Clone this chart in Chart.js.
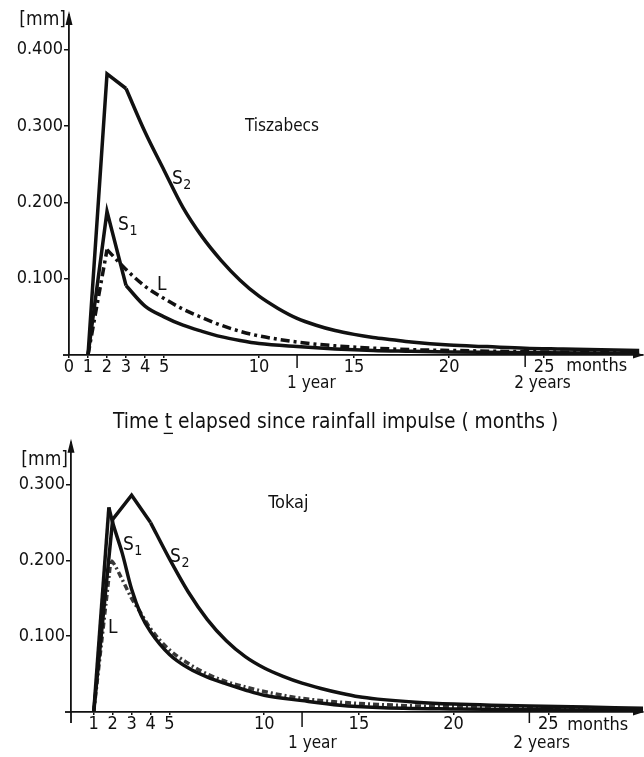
<!DOCTYPE html>
<html><head><meta charset="utf-8">
<script src="https://cdn.jsdelivr.net/npm/chart.js@4.4.0/dist/chart.umd.min.js"></script>
<style>
html,body{margin:0;padding:0;background:#fff;width:644px;height:757px;overflow:hidden}
canvas{position:absolute;left:0}
#c1{top:0}
#c2{top:435px}
</style></head><body>
<canvas id="c1" width="644" height="435"></canvas>
<canvas id="c2" width="644" height="322"></canvas>
<script>
const FONT = "'DejaVu Sans Condensed', 'DejaVu Sans', sans-serif";
const INK = '#111111';

// ---- tick labels ----
const topXTicks = [0, 1, 2, 3, 4, 5, 10, 15, 20, 25];
const botXTicks = [1, 2, 3, 4, 5, 10, 15, 20, 25];
const topYTicks = [0.1, 0.2, 0.3, 0.4];
const botYTicks = [0.1, 0.2, 0.3];

// ---- Tiszabecs (months, mm) ----
const tiszaS2Months = [1, 2, 3, 4, 5, 6, 7, 8, 9, 10, 11, 12, 13, 14, 15, 16, 17, 18, 20, 22, 24, 26, 28, 30];
const tiszaS2Values = [0, 0.368, 0.349, 0.292, 0.242, 0.193, 0.155, 0.124, 0.098, 0.077, 0.061, 0.048, 0.039, 0.032, 0.027, 0.023, 0.020, 0.017, 0.013, 0.011, 0.009, 0.008, 0.007, 0.006];
const tiszaS1Months = [1, 2, 3, 4, 5, 6, 7, 8, 9, 10, 12, 14, 16, 18, 20, 25, 30];
const tiszaS1Values = [0, 0.188, 0.091, 0.064, 0.050, 0.039, 0.031, 0.024, 0.019, 0.015, 0.011, 0.008, 0.006, 0.005, 0.004, 0.003, 0.002];
const tiszaLMonths  = [1, 2, 3, 4, 5, 6, 7, 8, 9, 10, 12, 14, 16, 18, 20, 25, 30];
const tiszaLValues  = [0, 0.138, 0.112, 0.090, 0.074, 0.060, 0.049, 0.039, 0.031, 0.025, 0.017, 0.012, 0.009, 0.007, 0.006, 0.004, 0.003];

// ---- Tokaj (months, mm) ----
const tokajS2Months = [1, 2, 3, 4, 5, 6, 7, 8, 9, 10, 11, 12, 13, 14, 15, 16, 18, 20, 22, 24, 27, 30];
const tokajS2Values = [0, 0.254, 0.286, 0.250, 0.202, 0.158, 0.122, 0.094, 0.073, 0.058, 0.047, 0.038, 0.031, 0.025, 0.020, 0.017, 0.013, 0.0105, 0.009, 0.008, 0.0065, 0.005];
const tokajS1Months = [1, 1.8, 2, 2.5, 3, 3.5, 4, 5, 6, 7, 8, 9, 10, 12, 14, 16, 20, 25, 30];
const tokajS1Values = [0, 0.270, 0.250, 0.210, 0.162, 0.128, 0.106, 0.076, 0.058, 0.046, 0.037, 0.029, 0.022, 0.015, 0.009, 0.006, 0.004, 0.003, 0.002];
const tokajLMonths  = [1, 1.9, 2, 2.5, 3, 3.5, 4, 5, 6, 7, 8, 9, 10, 12, 14, 16, 18, 20, 25, 30];
const tokajLValues  = [0, 0.200, 0.198, 0.175, 0.150, 0.130, 0.110, 0.082, 0.064, 0.050, 0.040, 0.033, 0.027, 0.018, 0.013, 0.010, 0.008, 0.007, 0.005, 0.004];

const pts = (ts, vs) => ts.map((t, i) => ({ x: t, y: vs[i] }));

function drawSub(ctx, main, sub, px, py, subDy) {
  ctx.textAlign = 'left';
  ctx.textBaseline = 'middle';
  ctx.font = `19px ${FONT}`;
  ctx.fillText(main, px, py);
  const w = ctx.measureText(main).width;
  if (sub) {
    ctx.font = `14px ${FONT}`;
    ctx.fillText(sub, px + w + 0.5, py + subDy);
  }
}

function annot(cfg) {
  return {
    id: 'annot',
    afterDraw(chart) {
      const { ctx, chartArea: a, scales: { x, y } } = chart;
      ctx.save();
      ctx.fillStyle = INK; ctx.strokeStyle = INK; ctx.lineWidth = 1.8;
      // y axis arrow
      ctx.beginPath(); ctx.moveTo(a.left, a.top + 1); ctx.lineTo(a.left, a.top - 5); ctx.stroke();
      ctx.beginPath(); ctx.moveTo(a.left, a.top - 8); ctx.lineTo(a.left - 3.5, a.top + 6); ctx.lineTo(a.left + 3.5, a.top + 6); ctx.closePath(); ctx.fill();
      // x axis arrow
      ctx.beginPath(); ctx.moveTo(a.right + 1, a.bottom); ctx.lineTo(a.right - 10, a.bottom - 3.5); ctx.lineTo(a.right - 10, a.bottom + 3.5); ctx.closePath(); ctx.fill();
      // x axis left extension
      ctx.beginPath(); ctx.moveTo(a.left - cfg.xExtL, a.bottom); ctx.lineTo(a.left, a.bottom); ctx.stroke();
      if (cfg.yExtB) { ctx.beginPath(); ctx.moveTo(a.left, a.bottom); ctx.lineTo(a.left, a.bottom + cfg.yExtB); ctx.stroke(); }
      // year marks
      ctx.lineWidth = 1.5;
      ctx.font = `17px ${FONT}`; ctx.textAlign = 'left'; ctx.textBaseline = 'middle';
      cfg.yearMarks.forEach(m => {
        const px = x.getPixelForValue(m.t);
        ctx.beginPath(); ctx.moveTo(px, a.bottom + m.from); ctx.lineTo(px, a.bottom + m.to); ctx.stroke();
        ctx.fillText(m.label, px + m.dx, a.bottom + m.dy);
      });
      // months
      ctx.font = `18px ${FONT}`;
      ctx.fillText('months', x.getPixelForValue(25) + cfg.monthsDx, a.bottom + cfg.monthsDy);
      // [mm]
      ctx.font = `19px ${FONT}`; ctx.textAlign = 'right';
      ctx.fillText('[mm]', a.left - 3, a.top + cfg.mmDy);
      // place name
      ctx.textAlign = 'left';
      ctx.font = `${cfg.place.size}px ${FONT}`;
      ctx.fillText(cfg.place.text, x.getPixelForValue(cfg.place.t), y.getPixelForValue(cfg.place.v));
      // series labels
      cfg.labels.forEach(l => drawSub(ctx, l.main, l.sub, x.getPixelForValue(l.t), y.getPixelForValue(l.v), l.subDy));
      // axis title
      if (cfg.title) {
        const t = cfg.title;
        const x1 = x.getPixelForValue(t.t1), x2 = x.getPixelForValue(t.t2);
        ctx.font = `16px ${FONT}`;
        const w0 = ctx.measureText(t.text).width;
        const fs = 16 * (x2 - x1) / w0;
        ctx.font = `${fs.toFixed(2)}px ${FONT}`;
        ctx.textAlign = 'left'; ctx.textBaseline = 'middle';
        const ty = a.bottom + t.dy;
        ctx.fillText(t.text, x1, ty);
        const pre = ctx.measureText('Time ').width;
        const tw = ctx.measureText('t').width;
        ctx.lineWidth = 1.3;
        ctx.beginPath(); ctx.moveTo(x1 + pre - 1, ty + fs * 0.5); ctx.lineTo(x1 + pre + tw + 1, ty + fs * 0.5); ctx.stroke();
      }
      ctx.restore();
    }
  };
}

// each curve: straight rising part up to index `split`, smooth decay from there on
function curveDatasets(s) {
  const all = pts(s.t, s.v);
  const common = { borderColor: s.color, borderWidth: s.width, borderDash: s.dash || [],
                   pointRadius: 0, fill: false, borderJoinStyle: 'miter', borderCapStyle: 'butt' };
  return [
    Object.assign({ label: s.name + ' rise', data: all.slice(0, s.split + 1), tension: 0 }, common),
    Object.assign({ label: s.name, data: all.slice(s.split), cubicInterpolationMode: 'monotone' }, common)
  ];
}

function makeChart(id, cfg) {
  return new Chart(document.getElementById(id), {
    type: 'line',
    data: { datasets: cfg.series.flatMap(curveDatasets) },
    options: {
      responsive: false, animation: false, devicePixelRatio: 1,
      layout: { padding: { top: cfg.padTop, right: 1, left: 0, bottom: 0 } },
      plugins: { legend: { display: false }, tooltip: { enabled: false }, title: { display: false } },
      scales: {
        x: {
          type: 'linear', min: cfg.xMin, max: cfg.xMax,
          afterFit: s => { s.height = cfg.xAxisH; },
          afterBuildTicks: s => { s.ticks = cfg.xTicks.map(v => ({ value: v })); },
          ticks: { autoSkip: false, maxRotation: 0, padding: 0, color: INK,
                   font: { family: FONT, size: 18, lineHeight: 1 }, callback: v => String(v) },
          grid: { drawOnChartArea: false, drawTicks: true, tickLength: 3, color: INK, lineWidth: 1.5 },
          border: { display: true, color: INK, width: 1.8 }
        },
        y: {
          type: 'linear', min: 0, max: cfg.yMax,
          afterFit: s => { s.width = cfg.yAxisW; },
          afterBuildTicks: s => { s.ticks = cfg.yTicks.map(v => ({ value: v })); },
          ticks: { padding: 1, color: INK, font: { family: FONT, size: 18 }, callback: v => v.toFixed(3) },
          grid: { drawOnChartArea: false, drawTicks: true, tickLength: 5, color: INK, lineWidth: 1.5 },
          border: { display: true, color: INK, width: 1.8 }
        }
      }
    },
    plugins: [annot(cfg)]
  });
}

makeChart('c1', {
  padTop: 19, xAxisH: 80, yAxisW: 69, xMin: 0, xMax: 30.2, yMax: 0.44,
  xTicks: topXTicks, yTicks: topYTicks, xExtL: 6, yExtB: 0,
  series: [
    { name: 'S2', t: tiszaS2Months, v: tiszaS2Values, color: INK, width: 3.5, split: 2 },
    { name: 'S1', t: tiszaS1Months, v: tiszaS1Values, color: INK, width: 3.5, split: 2 },
    { name: 'L',  t: tiszaLMonths,  v: tiszaLValues,  color: INK, width: 3.5, split: 1, dash: [9, 4, 3, 4] }
  ],
  yearMarks: [
    { t: 12, label: '1 year',  from: 0, to: 13, dx: -10, dy: 29 },
    { t: 24, label: '2 years', from: -2, to: 12, dx: -11, dy: 29 }
  ],
  monthsDx: 22, monthsDy: 11, mmDy: 1,
  place: { text: 'Tiszabecs', t: 9.26, v: 0.299, size: 17 },
  labels: [
    { main: 'S', sub: '2', t: 5.42, v: 0.2307, subDy: 7 },
    { main: 'S', sub: '1', t: 2.58, v: 0.170, subDy: 6 },
    { main: 'L', sub: '',  t: 4.63, v: 0.0917, subDy: 0 }
  ],
  title: { text: 'Time t elapsed since rainfall impulse ( months )', t1: 2.32, t2: 25.74, dy: 68 }
});

makeChart('c2', {
  padTop: 11, xAxisH: 45, yAxisW: 71, xMin: -0.2, xMax: 30, yMax: 0.35,
  xTicks: botXTicks, yTicks: botYTicks, xExtL: 6, yExtB: 11,
  series: [
    { name: 'S2', t: tokajS2Months, v: tokajS2Values, color: INK, width: 3.5, split: 3 },
    { name: 'S1', t: tokajS1Months, v: tokajS1Values, color: INK, width: 3.5, split: 1 },
    { name: 'L',  t: tokajLMonths,  v: tokajLValues,  color: '#383838', width: 3.5, split: 1, dash: [6, 3, 2, 3] }
  ],
  yearMarks: [
    { t: 12, label: '1 year',  from: 0, to: 15, dx: -14, dy: 32 },
    { t: 24, label: '2 years', from: -2, to: 11, dx: -16, dy: 32 }
  ],
  monthsDx: 19, monthsDy: 13, mmDy: 13,
  place: { text: 'Tokaj', t: 10.21, v: 0.276, size: 18 },
  labels: [
    { main: 'S', sub: '1', t: 2.54, v: 0.2197, subDy: 6 },
    { main: 'S', sub: '2', t: 5.03, v: 0.205, subDy: 7 },
    { main: 'L', sub: '',  t: 1.75, v: 0.1105, subDy: 0 }
  ]
});
</script>
</body></html>
